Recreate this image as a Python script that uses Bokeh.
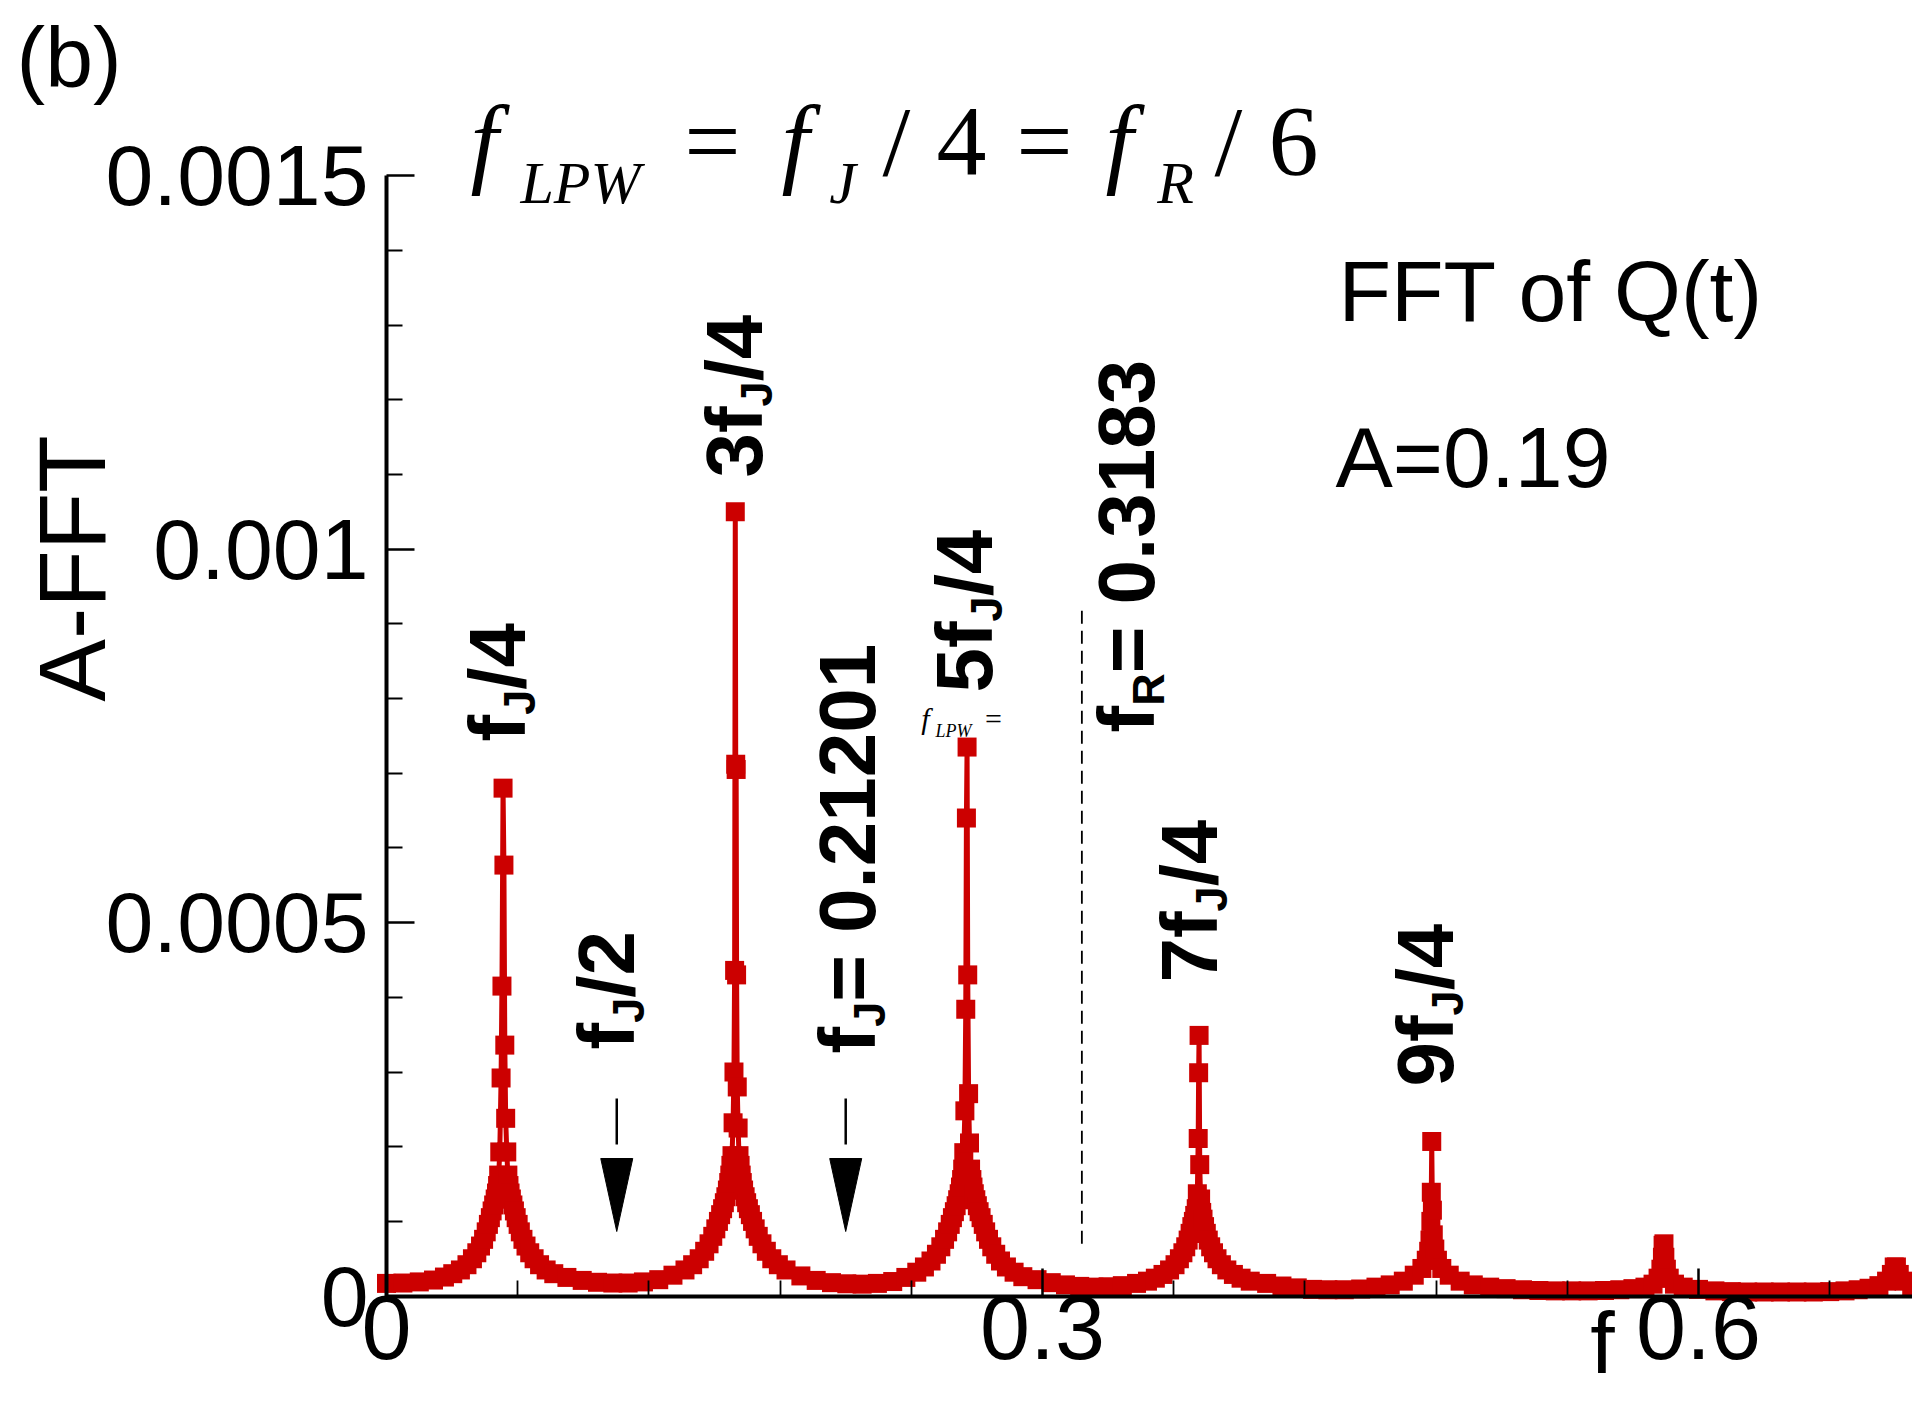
import numpy as np
from bokeh.plotting import figure
from bokeh.models import Range1d, FixedTicker, CustomJSTickFormatter, ColumnDataSource
from bokeh.core.properties import value
from bokeh.embed import file_html
from bokeh.resources import INLINE

# ---------------- data ----------------
base0_f = [0.000, 0.0075, 0.0150, 0.0215, 0.0265]
base0_a = [1.70e-5, 1.75e-5, 1.90e-5, 2.15e-5, 2.55e-5]

peak1_f = [0.0303, 0.0338, 0.0368, 0.0393, 0.0413, 0.0430, 0.0444, 0.0456, 0.0466, 0.0475,
           0.0483, 0.0490, 0.0497, 0.0503, 0.0508, 0.0513, 0.0518,
           0.0524, 0.0528, 0.0533, 0.0537, 0.0541, 0.0545,
           0.0550, 0.0555, 0.0560, 0.0565, 0.0571, 0.0578, 0.0585, 0.0593, 0.0602, 0.0612,
           0.0624, 0.0638, 0.0655, 0.0675, 0.0700, 0.0730, 0.0765]
peak1_a = [3.0e-5, 3.5e-5, 4.2e-5, 5.0e-5, 5.8e-5, 6.7e-5, 7.6e-5, 8.6e-5, 9.6e-5, 1.05e-4,
           1.14e-4, 1.22e-4, 1.30e-4, 1.38e-4, 1.48e-4, 1.62e-4, 1.93e-4,
           2.92e-4, 4.15e-4, 6.80e-4, 5.77e-4, 3.36e-4, 2.38e-4,
           1.93e-4, 1.62e-4, 1.48e-4, 1.38e-4, 1.30e-4, 1.22e-4, 1.14e-4, 1.05e-4, 9.6e-5, 8.6e-5,
           7.6e-5, 6.7e-5, 5.8e-5, 5.0e-5, 4.2e-5, 3.5e-5, 3.0e-5]

base1_f = [0.0825, 0.0895, 0.0965, 0.1035, 0.1105, 0.1175, 0.1245, 0.1310]
base1_a = [2.5e-5, 2.1e-5, 1.85e-5, 1.75e-5, 1.75e-5, 1.9e-5, 2.2e-5, 2.8e-5]

peak2_f = [0.1365, 0.1400, 0.1430, 0.1455, 0.1475, 0.1492, 0.1506, 0.1518, 0.1528, 0.1537,
           0.1545, 0.1552, 0.1559, 0.1565, 0.1570, 0.1575, 0.1580,
           0.1585, 0.1589, 0.1592, 0.1595, 0.1597, 0.1599, 0.1601, 0.1604, 0.1608,
           0.1612, 0.1617, 0.1622, 0.1627, 0.1633, 0.1640, 0.1647, 0.1655, 0.1664, 0.1674,
           0.1686, 0.1700, 0.1717, 0.1737, 0.1762, 0.1792, 0.1827]
peak2_a = [3.5e-5, 4.2e-5, 5.0e-5, 6.0e-5, 7.0e-5, 8.0e-5, 9.0e-5, 1.00e-4, 1.09e-4, 1.17e-4,
           1.25e-4, 1.33e-4, 1.42e-4, 1.52e-4, 1.62e-4, 1.75e-4, 1.88e-4,
           2.32e-4, 3.00e-4, 4.36e-4, 1.05e-3, 7.12e-4, 7.05e-4, 4.30e-4, 2.80e-4, 2.25e-4,
           1.88e-4, 1.75e-4, 1.62e-4, 1.52e-4, 1.42e-4, 1.33e-4, 1.25e-4, 1.17e-4, 1.09e-4, 1.00e-4,
           9.0e-5, 8.0e-5, 7.0e-5, 6.0e-5, 5.0e-5, 4.2e-5, 3.5e-5]

base2_f = [0.1895, 0.1965, 0.2035, 0.2105, 0.2175, 0.2245, 0.2315, 0.2375]
base2_a = [2.7e-5, 2.1e-5, 1.8e-5, 1.65e-5, 1.6e-5, 1.7e-5, 1.95e-5, 2.5e-5]

peak3_f = [0.2425, 0.2460, 0.2490, 0.2515, 0.2535, 0.2552, 0.2566, 0.2578, 0.2588, 0.2597,
           0.2605, 0.2612, 0.2619, 0.2625, 0.2630, 0.2635, 0.2640,
           0.2645, 0.2649, 0.2652, 0.2655, 0.2658, 0.2662, 0.2666,
           0.2671, 0.2677, 0.2682, 0.2688, 0.2695, 0.2702, 0.2710, 0.2719, 0.2729, 0.2740,
           0.2753, 0.2768, 0.2786, 0.2808, 0.2835, 0.2870, 0.2910]
peak3_a = [3.2e-5, 3.9e-5, 4.7e-5, 5.6e-5, 6.6e-5, 7.6e-5, 8.6e-5, 9.6e-5, 1.05e-4, 1.13e-4,
           1.21e-4, 1.29e-4, 1.37e-4, 1.46e-4, 1.56e-4, 1.70e-4, 1.92e-4,
           2.48e-4, 3.84e-4, 6.40e-4, 7.35e-4, 4.30e-4, 2.71e-4, 2.05e-4,
           1.70e-4, 1.56e-4, 1.46e-4, 1.37e-4, 1.29e-4, 1.21e-4, 1.13e-4, 1.05e-4, 9.6e-5, 8.6e-5,
           7.6e-5, 6.6e-5, 5.6e-5, 4.7e-5, 3.9e-5, 3.2e-5, 2.6e-5]

base3_f = [0.2975, 0.3040, 0.3105, 0.3170, 0.3235, 0.3300, 0.3365, 0.3430, 0.3480]
base3_a = [2.2e-5, 1.8e-5, 1.5e-5, 1.3e-5, 1.2e-5, 1.25e-5, 1.4e-5, 1.7e-5, 2.0e-5]

peak4_f = [0.3516, 0.3551, 0.3581, 0.3606, 0.3626, 0.3642, 0.3655, 0.3666, 0.3675, 0.3683,
           0.3690, 0.3696, 0.3703, 0.3708, 0.3712, 0.3714, 0.3716,
           0.3719, 0.3723, 0.3728, 0.3734, 0.3741, 0.3749, 0.3758, 0.3769, 0.3782, 0.3798,
           0.3818, 0.3843, 0.3873, 0.3908, 0.3950]
peak4_a = [2.4e-5, 2.9e-5, 3.5e-5, 4.2e-5, 5.0e-5, 5.8e-5, 6.6e-5, 7.5e-5, 8.4e-5, 9.3e-5,
           1.00e-4, 1.08e-4, 1.17e-4, 1.37e-4, 2.11e-4, 2.99e-4, 3.49e-4,
           1.76e-4, 1.30e-4, 1.12e-4, 1.03e-4, 9.3e-5, 8.4e-5, 7.5e-5, 6.6e-5, 5.8e-5, 5.0e-5,
           4.2e-5, 3.5e-5, 2.9e-5, 2.4e-5, 2.0e-5]

base4_f = [0.4025, 0.4095, 0.4165, 0.4235, 0.4305, 0.4380, 0.4455, 0.4525]
base4_a = [1.7e-5, 1.35e-5, 1.1e-5, 9e-6, 8.5e-6, 8.5e-6, 9.5e-6, 1.2e-5]

peak5_f = [0.4590, 0.4650, 0.4700, 0.4735, 0.4755, 0.4766, 0.4772, 0.4776, 0.4778, 0.4780,
           0.4783, 0.4787, 0.4794, 0.4806, 0.4826, 0.4860, 0.4910, 0.4970]
peak5_a = [1.5e-5, 2.0e-5, 2.8e-5, 3.7e-5, 4.8e-5, 6.0e-5, 7.5e-5, 1.0e-4, 1.39e-4, 2.07e-4,
           1.15e-4, 8.2e-5, 6.3e-5, 4.8e-5, 3.7e-5, 2.8e-5, 2.0e-5, 1.5e-5]

base5_f = [0.5045, 0.5120, 0.5195, 0.5270, 0.5345, 0.5420, 0.5495, 0.5570, 0.5640, 0.5700]
base5_a = [1.2e-5, 1.0e-5, 8.5e-6, 7.5e-6, 7.0e-6, 7.0e-6, 7.0e-6, 7.5e-6, 8.5e-6, 1.0e-5]

peak6_f = [0.5755, 0.5792, 0.5815, 0.5828, 0.5835, 0.5838, 0.5842, 0.5846, 0.5853, 0.5866, 0.5890, 0.5930]
peak6_a = [1.2e-5, 1.6e-5, 2.4e-5, 3.6e-5, 5.2e-5, 6.8e-5, 7.0e-5, 5.2e-5, 3.6e-5, 2.4e-5, 1.6e-5, 1.2e-5]

base6_f = [0.6000, 0.6075, 0.6150, 0.6225, 0.6300, 0.6375, 0.6450, 0.6525, 0.6600, 0.6670, 0.6730, 0.6780]
base6_a = [9e-6, 7e-6, 6e-6, 5.5e-6, 5.5e-6, 5.5e-6, 5.5e-6, 5.5e-6, 6e-6, 7e-6, 8.5e-6, 1.05e-5]

peak7_f = [0.6825, 0.6860, 0.6882, 0.6895, 0.6905, 0.6918, 0.6940, 0.6975, 0.7010]
peak7_a = [1.4e-5, 2.0e-5, 2.9e-5, 3.9e-5, 3.9e-5, 2.9e-5, 2.0e-5, 1.4e-5, 1.1e-5]

# ticks
x_major = [0, 0.3, 0.6]
x_minor = [0.06, 0.12, 0.18, 0.24, 0.36, 0.42, 0.48, 0.54, 0.66]
y_major = [0, 0.0005, 0.001, 0.0015]
y_minor = [0.0001, 0.0002, 0.0003, 0.0004, 0.0006, 0.0007, 0.0008, 0.0009,
           0.0011, 0.0012, 0.0013, 0.0014]

# marked frequencies
arrow_f = [0.1053, 0.2100]      # f_J/2 and f_J arrows
fR_line = [0.3180, 0.3180]      # dashed line at f_R
fR_line_a = [0.00007, 0.00092]

# ---------------- layout ----------------
W, H = 1912, 1398
X0_PX, PXX = 386.0, 2186.7       # canvas px of f=0, px per unit f
Y0_PX, PXY = 1295.6, 747000.0    # canvas px (from top) of A=0, px per unit A
RED = "#cc0000"
BL = 0.36                        # baseline correction (fraction of font size)


def X(px):
    return (px - X0_PX) / PXX


def Y(py):
    return (Y0_PX - py) / PXY


freq = (base0_f + peak1_f + base1_f + peak2_f + base2_f + peak3_f + base3_f + peak4_f
        + base4_f + peak5_f + base5_f + peak6_f + base6_f + peak7_f)
amp = (base0_a + peak1_a + base1_a + peak2_a + base2_a + peak3_a + base3_a + peak4_a
       + base4_a + peak5_a + base5_a + peak6_a + base6_a + peak7_a)

p = figure(width=W, height=H,
           x_range=Range1d(-X0_PX / PXX, (W - X0_PX) / PXX),
           y_range=Range1d(-(H - Y0_PX) / PXY, Y0_PX / PXY),
           output_backend="svg", toolbar_location=None, min_border=0)
p.grid.visible = False
p.outline_line_color = None
p.background_fill_color = "white"
p.border_fill_color = "white"

for ax, bounds, ticks, minors, standoff, fs in (
        (p.xaxis[0], (0, 0.7), x_major, x_minor, 0, "90px"),
        (p.yaxis[0], (0, 0.0015), y_major, y_minor, 18, "86px")):
    ax.fixed_location = 0
    ax.bounds = bounds
    ax.ticker = FixedTicker(ticks=ticks, minor_ticks=minors)
    ax.formatter = CustomJSTickFormatter(code="return String(tick)")
    ax.axis_line_width = 4
    ax.axis_line_color = "black"
    ax.major_tick_in = 28
    ax.major_tick_out = 0
    ax.minor_tick_in = 16
    ax.minor_tick_out = 0
    ax.major_tick_line_width = 2.5
    ax.minor_tick_line_width = 1.8
    ax.major_label_text_font = "Liberation Sans"
    ax.major_label_text_font_size = fs
    ax.major_label_text_color = "black"
    ax.major_label_standoff = standoff

src = ColumnDataSource(dict(f=freq, a=amp))
p.line("f", "a", source=src, line_color=RED, line_width=5)
p.scatter("f", "a", source=src, marker="square", size=19,
          fill_color=RED, line_color=RED, line_width=0)

# dashed f_R line
p.line(fR_line, fR_line_a, line_color="black", line_width=1.8, line_dash="13 7")

# arrows (shaft + filled triangle head)
p.segment(x0=arrow_f, y0=[Y(1144)] * 2, x1=arrow_f, y1=[Y(1098)] * 2,
          line_color="black", line_width=2.5)
hw = 16 / PXX
p.patches(xs=[[f - hw, f + hw, f] for f in arrow_f],
          ys=[[Y(1158), Y(1158), Y(1231)] for _ in arrow_f],
          fill_color="black", line_color="black", line_width=1)

SANS = value("Liberation Sans")
SERIF = value("Liberation Serif")


def htext(txt, x_px, base_px, size, font=SANS, style="normal", align="left"):
    p.text(x=[X(x_px)], y=[Y(base_px - BL * size)], text=[txt], text_font=font,
           text_font_size=f"{size}px", text_font_style=style, text_align=align,
           text_baseline="alphabetic", text_color="black")


# plain sans texts
p.text(x=[X(16)], y=[Y(56)], text=["(b)"], text_font=SANS, text_font_size="86px",
       text_align="left", text_baseline="middle", text_color="black")
htext("FFT of Q(t)", 1338, 321, 86)
htext("A=0.19", 1335, 487, 86)
htext("f", 1602, 1374, 88, align="center")
p.text(x=[X(72)], y=[Y(568)], text=["A-FFT"], angle=np.pi / 2, text_font=SANS,
       text_font_size="94px", text_align="center", text_baseline="alphabetic",
       text_color="black")

# formula  f_LPW = f_J / 4 = f_R / 6   (and the small stray copy)
formula = [("f", 484, 177, 100, "italic"), ("LPW", 580, 204, 60, "italic"),
           ("=", 712, 177, 100, "normal"), ("f", 795, 177, 100, "italic"),
           ("J", 842, 204, 60, "italic"), ("/", 896, 177, 100, "normal"),
           ("4", 961, 177, 100, "normal"), ("=", 1044, 177, 100, "normal"),
           ("f", 1119, 177, 100, "italic"), ("R", 1175, 204, 60, "italic"),
           ("/", 1228, 177, 100, "normal"), ("6", 1293, 177, 100, "normal"),
           ("f", 925, 729, 30, "italic"), ("LPW", 953, 737, 18, "italic"),
           ("=", 993, 729, 30, "normal")]
for t, cx, by, sz, st in formula:
    htext(t, cx, by, sz, font=SERIF, style=st, align="center")

# rotated bold labels with subscripts
AW = {'f': 0.333, '3': 0.556, '5': 0.556, '7': 0.556, '9': 0.556, 'J': 0.556, 'R': 0.722,
      '/': 0.278, ' ': 0.278, '=': 0.584, '0': 0.556, '1': 0.556, '2': 0.556, '4': 0.556,
      '8': 0.556, '.': 0.278}


def tw(s, size):
    return sum(AW[c] for c in s) * size


S_MAIN, S_SUB, SUB_SHIFT = 80, 45, 22
ROT_SHIFT = 0.39 * S_MAIN
labels = [(528, 741, "f", "J", "/4"), (765, 477, "3f", "J", "/4"),
          (995, 692, "5f", "J", "/4"), (1220, 982, "7f", "J", "/4"),
          (1456, 1086, "9f", "J", "/4"), (637, 1049, "f", "J", "/2"),
          (878, 1053, "f", "J", " = 0.21201"), (1157, 732, "f", "R", " = 0.3183")]
mx, my, mt, sx, sy, st_ = [], [], [], [], [], []
for bx, by, pre, sub, suf in labels:
    bx = bx - ROT_SHIFT
    y0 = Y(by)
    mx.append(X(bx)); my.append(y0); mt.append(pre)
    y1 = y0 + tw(pre, S_MAIN) / PXY
    sx.append(X(bx + SUB_SHIFT)); sy.append(y1); st_.append(sub)
    y2 = y1 + tw(sub, S_SUB) / PXY
    mx.append(X(bx)); my.append(y2); mt.append(suf)
p.text(x=mx, y=my, text=mt, angle=np.pi / 2, text_font=SANS, text_font_style="bold",
       text_font_size=f"{S_MAIN}px", text_align="left", text_baseline="alphabetic",
       text_color="black")
p.text(x=sx, y=sy, text=st_, angle=np.pi / 2, text_font=SANS, text_font_style="bold",
       text_font_size=f"{S_SUB}px", text_align="left", text_baseline="alphabetic",
       text_color="black")

open("out.html", "w").write(file_html(p, INLINE))
